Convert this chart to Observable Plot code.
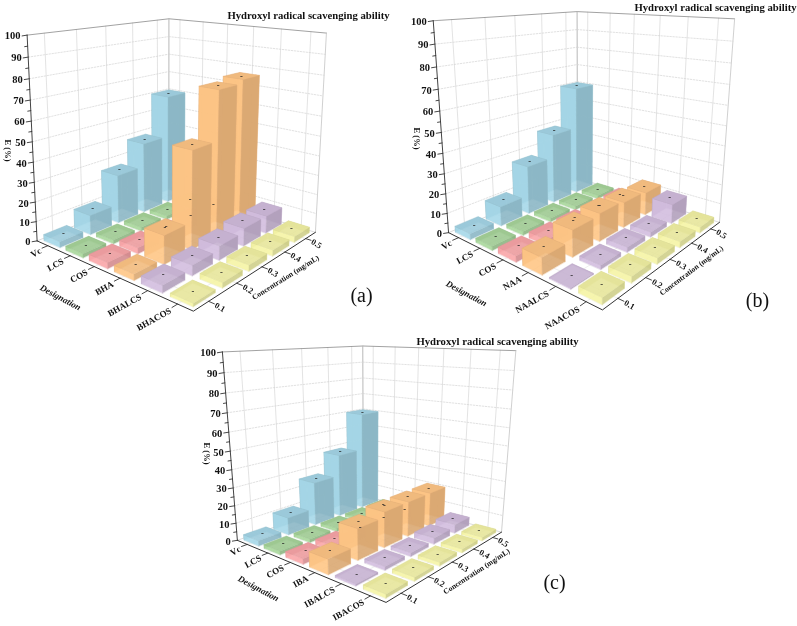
<!DOCTYPE html>
<html><head><meta charset="utf-8">
<script src="https://cdn.jsdelivr.net/npm/d3@7"></script>
<script src="https://cdn.jsdelivr.net/npm/@observablehq/plot@0.6"></script>
<style>html,body{margin:0;padding:0;background:#fff}svg{display:block;filter:blur(0.35px)}</style>
</head><body><div id="chart"></div>
<script>
// ---- data ----
const concentrations = ["0.1","0.2","0.3","0.4","0.5"];
const designationsA = ["Vc","LCS","COS","BHA","BHALCS","BHACOS"];
const designationsB = ["Vc","LCS","COS","NAA","NAALCS","NAACOS"];
const designationsC = ["Vc","LCS","COS","IBA","IBALCS","IBACOS"];
const vc  = [3, 10, 25.5, 38, 60];
const lcs = [2, 2, 2, 2, 2];
const cos = [3, 3, 3, 3, 3];
const bha    = [3, 14, 49, 74, 76];
const bhalcs = [3.5, 5, 7, 9, 9];
const bhacos = [1.5, 2.5, 3, 3, 3];
const naa    = [8, 13, 14, 13, 12];
const naalcs = [0.5, 2, 2.5, 2.5, 10];
const naacos = [3, 3, 3, 3, 3];
const iba    = [8, 17, 20, 20, 20];
const ibalcs = [1, 2, 2, 3.5, 5];
const ibacos = [2, 2, 2, 2, 2];
const seriesColors = ["#a3d4e5","#a5d398","#f6a3a6","#fdc384","#cfbbdb","#f1f0a2"];
const title = "Hydroxyl radical scavenging ability";
const zTicks = [0,10,20,30,40,50,60,70,80,90,100];

// ---- panel layout: image positions of the 3D box corners and annotations ----
const panels = [
 {tag:"(a)", names:designationsA, rows:[vc,lcs,cos,bha,bhalcs,bhacos],
  corners:[[36.7,240.5],[26.7,34.5],[192.7,310.7],[315,231.7],[326,32.7],[168.3,18.3],[168.3,187]],
  titleAt:[308,15], tagAt:[361,295], eAt:[7.5,150], desAt:[60,297], conAt:[285,277], conRot:-32},
 {tag:"(b)", names:designationsB, rows:[vc,lcs,cos,naa,naalcs,naacos],
  corners:[[448.3,230],[432.7,20.7],[601.7,311.7],[719.3,219.3],[734,19.3],[576.7,10],[576.7,180]],
  titleAt:[715,7.5], tagAt:[757,300], eAt:[416,138], desAt:[466,293], conAt:[691,270], conRot:-37},
 {tag:"(c)", names:designationsC, rows:[vc,lcs,cos,iba,ibalcs,ibacos],
  corners:[[236.7,535],[221.7,352.7],[386,606.7],[501,526.7],[515,351.7],[362.7,343.3],[362.7,500]],
  titleAt:[497,341], tagAt:[554,582], eAt:[206,453], desAt:[258,588], conAt:[476,571], conRot:-33}
];
const cornerUVZ = [[0,0,0],[0,0,1],[1,0,0],[1,1,0],[1,1,1],[0,1,1],[0,1,0]];

// least-squares fit of a projective camera to the corners
function fitCamera(corners){
  const A=[],b=[];
  corners.forEach(([X,Y],k)=>{
    const [u,v,z]=cornerUVZ[k];
    A.push([u,v,z,1,0,0,0,0,-X*u,-X*v,-X*z]); b.push(X);
    A.push([0,0,0,0,u,v,z,1,-Y*u,-Y*v,-Y*z]); b.push(Y);
  });
  const n=11, M=d3.range(n).map(i=>d3.range(n+1).map(j=>
    j<n? d3.sum(A,r=>r[i]*r[j]) : d3.sum(A,(r,k)=>r[i]*b[k])));
  for(let i=0;i<n;i++){
    let p=i; for(let r=i+1;r<n;r++) if(Math.abs(M[r][i])>Math.abs(M[p][i])) p=r;
    [M[i],M[p]]=[M[p],M[i]];
    for(let r=0;r<n;r++) if(r!==i){const f=M[r][i]/M[i][i]; for(let c=i;c<=n;c++) M[r][c]-=f*M[i][c];}
  }
  const p=M.map((r,i)=>r[n]/r[i]);
  return (u,v,val)=>{const z=val/100,w=p[8]*u+p[9]*v+p[10]*z+1;
    return [(p[0]*u+p[1]*v+p[2]*z+p[3])/w,(p[4]*u+p[5]*v+p[6]*z+p[7])/w];};
}

const polys=[], segs=[], texts=[], dots=[];
let gid=0;
const seg=(pts,stroke,width,dash,layer)=>{const id=gid++; pts.forEach(q=>segs.push({x:q[0],y:q[1],id,stroke,width,dash,layer}));};

panels.forEach((pn,pi)=>{
  const P=fitCamera(pn.corners);
  const nU=pn.rows.length,nV=concentrations.length;
  const uc=i=>(i+.5)/nU, vc_=j=>(j+.5)/nV;
  // walls & floor grid
  zTicks.forEach(t=>{ if(t===0||t===100) return;
    seg([P(0,0,t),P(0,1,t)],"#d4d4d4",.7,"grid",0);
    seg([P(0,1,t),P(1,1,t)],"#d4d4d4",.7,"grid",0);
  });
  concentrations.forEach((_,j)=>{
    seg([P(0,vc_(j),0),P(0,vc_(j),100)],"#dcdcdc",.8,"solid",0);
    seg([P(0,vc_(j),0),P(1,vc_(j),0)],"#e2e2e2",.6,"solid",0);
  });
  pn.names.forEach((_,i)=>{
    seg([P(uc(i),1,0),P(uc(i),1,100)],"#dcdcdc",.8,"solid",0);
    seg([P(uc(i),0,0),P(uc(i),1,0)],"#e2e2e2",.6,"solid",0);
  });
  seg([P(0,0,100),P(0,1,100),P(1,1,100)],"#8a8a8a",.8,"solid",0);
  seg([P(0,1,0),P(0,1,100)],"#b0b0b0",.9,"solid",0);
  seg([P(1,1,0),P(1,1,100)],"#c4c4c4",.8,"solid",0);
  seg([P(0,0,0),P(0,1,0),P(1,1,0)],"#cccccc",.7,"solid",0);
  // bars, back to front
  const hu=.37/nU, hv=.37/nV;
  for(let i=0;i<nU;i++) for(let j=nV-1;j>=0;j--){
    const val=pn.rows[i][j], c=d3.color(seriesColors[i]);
    const u0=uc(i)-hu,u1=uc(i)+hu,v0=vc_(j)-hv,v1=vc_(j)+hv;
    const dark=d3.rgb(c).darker(.42).formatHex(), top=d3.rgb(c).darker(.12).formatHex(), light=d3.rgb(c).brighter(.05).formatHex();
    const edge=d3.rgb(c).darker(.25).formatHex();
    const face=(pts,fill)=>{const id=gid++; pts.forEach(q=>polys.push({x:q[0],y:q[1],id,fill,stroke:edge}));};
    face([P(u0,v1,0),P(u0,v1,val),P(u1,v1,val),P(u1,v1,0)],dark);
    face([P(u0,v0,0),P(u0,v0,val),P(u0,v1,val),P(u0,v1,0)],dark);
    face([P(u0,v0,0),P(u0,v0,val),P(u1,v0,val),P(u1,v0,0)],light);
    face([P(u1,v0,0),P(u1,v0,val),P(u1,v1,val),P(u1,v1,0)],dark);
    face([P(u0,v0,val),P(u1,v0,val),P(u1,v1,val),P(u0,v1,val)],top);
    const t=P(uc(i),vc_(j),val);
    dots.push({x:t[0],y:t[1],t:"-"});
  }
  // axes
  seg([P(0,0,0),P(0,0,100)],"#444",1,"solid",1);
  seg([P(0,0,0),P(1,0,0),P(1,1,0)],"#333",1,"solid",1);
  for(let t=0;t<=100;t+=5){
    const a=P(0,0,t); const major=t%10===0;
    seg([a,[a[0]-(major?5:3),a[1]+(major?.8:.5)]],"#333",.9,"solid",1);
    if(major) texts.push({x:a[0]-6.5,y:a[1]+1,t:String(t),a:"end",r:0,s:10.5,w:"bold"});
  }
  pn.names.forEach((nm,i)=>{
    const a=P(uc(i),0,0),b=P(uc(i),-.035,0);
    seg([a,b],"#333",.9,"solid",1);
    const l=P(uc(i),-.05,0);
    texts.push({x:l[0]+1,y:l[1]+1,t:nm,a:"end",r:-29,s:9,w:"bold"});
  });
  concentrations.forEach((nm,j)=>{
    const a=P(1,vc_(j),0),b=P(1.03,vc_(j),0);
    seg([a,b],"#333",.9,"solid",1);
    const l=P(1.035,vc_(j),0);
    texts.push({x:l[0],y:l[1]+.5,t:nm,a:"start",r:30,s:8.5,w:"bold"});
  });
  texts.push({x:pn.titleAt[0],y:pn.titleAt[1],t:title,a:"middle",r:0,s:10.7,w:"bold"});
  texts.push({x:pn.tagAt[0],y:pn.tagAt[1],t:pn.tag,a:"middle",r:0,s:20,w:"normal"});
  texts.push({x:pn.eAt[0],y:pn.eAt[1],t:"E (%)",a:"middle",r:90,s:8.5,w:"bold"});
  texts.push({x:pn.desAt[0],y:pn.desAt[1],t:"Designation",a:"middle",r:28,s:9,w:"italic"});
  texts.push({x:pn.conAt[0],y:pn.conAt[1],t:"Concentration (mg/mL)",a:"middle",r:pn.conRot,s:7.6,w:"bold"});
});

const font="Liberation Serif";
const chart=Plot.plot({
  width:797,height:626,margin:0,
  x:{domain:[0,797],range:[0,797],axis:null},
  y:{domain:[0,626],range:[0,626],axis:null},
  color:{type:"identity"},
  marks:[
    Plot.line(segs.filter(d=>d.layer===0&&d.dash==="solid"),{x:"x",y:"y",z:"id",stroke:"stroke",strokeWidth:d=>d.width}),
    Plot.line(segs.filter(d=>d.layer===0&&d.dash==="grid"),{x:"x",y:"y",z:"id",stroke:"stroke",strokeWidth:.7,strokeDasharray:"1.5,1.5"}),
    Plot.line(polys,{x:"x",y:"y",z:"id",fill:"fill",stroke:"stroke",strokeWidth:.3,fillOpacity:.9,curve:"linear-closed"}),
    Plot.line(segs.filter(d=>d.layer===1),{x:"x",y:"y",z:"id",stroke:"stroke",strokeWidth:d=>d.width}),
    Plot.text(dots,{x:"x",y:"y",text:"t",fontSize:8.5,fontWeight:"bold",fontFamily:font,fill:"#222"}),
    Plot.text(texts,{x:"x",y:"y",text:"t",textAnchor:"end",rotate:"r",fontSize:"s",fontFamily:font,fontWeight:"bold",fill:"#111",filter:d=>d.w==="bold"&&d.a==="end"}),
    Plot.text(texts,{x:"x",y:"y",text:"t",textAnchor:"start",rotate:"r",fontSize:"s",fontFamily:font,fontWeight:"bold",fill:"#111",filter:d=>d.w==="bold"&&d.a==="start"}),
    Plot.text(texts,{x:"x",y:"y",text:"t",rotate:"r",fontSize:"s",fontFamily:font,fontWeight:"bold",fill:"#111",filter:d=>d.w==="bold"&&d.a==="middle"}),
    Plot.text(texts,{x:"x",y:"y",text:"t",rotate:"r",fontSize:"s",fontFamily:font,fontWeight:"bold",fontStyle:"italic",fill:"#111",filter:d=>d.w==="italic"}),
    Plot.text(texts,{x:"x",y:"y",text:"t",rotate:"r",fontSize:"s",fontFamily:font,fill:"#111",filter:d=>d.w==="normal"})
  ]
});
document.getElementById("chart").append(chart);
</script></body></html>
